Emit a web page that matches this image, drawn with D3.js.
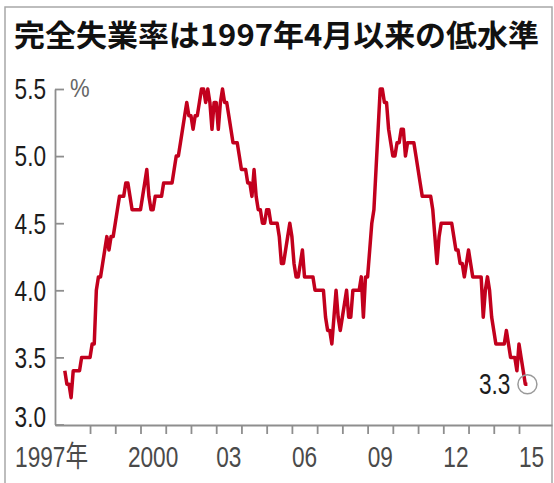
<!DOCTYPE html>
<html>
<head>
<meta charset="utf-8">
<script src="https://cdn.jsdelivr.net/npm/d3@7"></script>
<style>
  html, body { margin: 0; padding: 0; background: #fff; }
  svg { display: block; }
</style>
</head>
<body>
<svg id="chart" width="554" height="483"></svg>
<script>
// Monthly unemployment rate (%), one array per year, starting January 1997
const rate1997 = [3.4, 3.3, 3.3, 3.2, 3.4, 3.4, 3.4, 3.4, 3.5, 3.5, 3.5, 3.5];
const rate1998 = [3.5, 3.6, 3.6, 4.0, 4.1, 4.1, 4.2, 4.3, 4.4, 4.3, 4.4, 4.4];
const rate1999 = [4.5, 4.6, 4.7, 4.7, 4.7, 4.8, 4.8, 4.7, 4.6, 4.6, 4.6, 4.6];
const rate2000 = [4.6, 4.7, 4.8, 4.9, 4.7, 4.6, 4.6, 4.7, 4.7, 4.7, 4.7, 4.8];
const rate2001 = [4.8, 4.8, 4.8, 4.8, 4.9, 5.0, 5.0, 5.1, 5.2, 5.3, 5.4, 5.3];
const rate2002 = [5.3, 5.2, 5.3, 5.3, 5.4, 5.5, 5.5, 5.4, 5.5, 5.4, 5.2, 5.4];
const rate2003 = [5.4, 5.2, 5.4, 5.5, 5.4, 5.4, 5.3, 5.2, 5.1, 5.1, 5.1, 5.0];
const rate2004 = [4.9, 4.9, 4.9, 4.8, 4.8, 4.7, 4.9, 4.7, 4.6, 4.6, 4.5, 4.5];
const rate2005 = [4.6, 4.6, 4.5, 4.5, 4.5, 4.5, 4.4, 4.2, 4.2, 4.3, 4.4, 4.5];
const rate2006 = [4.4, 4.2, 4.1, 4.1, 4.2, 4.3, 4.1, 4.1, 4.1, 4.1, 4.1, 4.0];
const rate2007 = [4.0, 4.0, 4.0, 4.0, 3.8, 3.7, 3.7, 3.6, 3.8, 4.0, 3.8, 3.7];
const rate2008 = [3.8, 3.9, 4.0, 3.8, 3.8, 4.0, 4.0, 4.0, 4.0, 4.1, 3.8, 4.1];
const rate2009 = [4.1, 4.3, 4.5, 4.6, 4.9, 5.2, 5.5, 5.5, 5.4, 5.4, 5.2, 5.1];
const rate2010 = [5.0, 5.0, 5.1, 5.1, 5.2, 5.2, 5.0, 5.1, 5.1, 5.1, 5.1, 5.0];
const rate2011 = [4.9, 4.8, 4.7, 4.7, 4.7, 4.7, 4.7, 4.6, 4.4, 4.2, 4.4, 4.5];
const rate2012 = [4.5, 4.5, 4.5, 4.5, 4.5, 4.4, 4.3, 4.3, 4.2, 4.2, 4.1, 4.2];
const rate2013 = [4.3, 4.2, 4.1, 4.1, 4.1, 4.1, 4.1, 3.8, 4.0, 4.1, 4.0, 3.8];
const rate2014 = [3.7, 3.6, 3.6, 3.6, 3.6, 3.6, 3.7, 3.6, 3.5, 3.5, 3.5, 3.4];
const rate2015 = [3.6, 3.5, 3.4, 3.3, 3.3];

const startYear = 1997;
const rates = [].concat(rate1997, rate1998, rate1999, rate2000, rate2001, rate2002,
  rate2003, rate2004, rate2005, rate2006, rate2007, rate2008, rate2009, rate2010,
  rate2011, rate2012, rate2013, rate2014, rate2015);

const yTicks = [3.0, 3.5, 4.0, 4.5, 5.0, 5.5];
const xTickYears = d3.range(1998, 2016);
const xLabelYears = [1997, 2000, 2003, 2006, 2009, 2012, 2015];
const xLabels = ["1997年", "2000", "03", "06", "09", "12", "15"];
const titleText = "完全失業率は1997年4月以来の低水準";
const unitText = "%";
const lastLabel = "3.3";

const svg = d3.select("#chart");
const axisColor = "#8e8e8e";
const lineColor = "#c2001d";
const numFont = "'Liberation Sans', Arial, sans-serif";

// shrink text horizontally to a narrow face look
function condense(sel, f) {
  sel.each(function () {
    const w = this.getComputedTextLength();
    d3.select(this).attr("textLength", w * f).attr("lengthAdjust", "spacingAndGlyphs");
  });
}

// frame
svg.append("rect")
  .attr("x", 5).attr("y", 7).attr("width", 547).attr("height", 520)
  .attr("fill", "none").attr("stroke", "#a8a8a8").attr("stroke-width", 1.5);

// title
svg.append("text")
  .attr("x", 14).attr("y", 46)
  .attr("font-family", "'Noto Sans CJK JP', sans-serif")
  .attr("font-weight", 700)
  .attr("font-size", 30)
  .attr("fill", "#111")
  .attr("textLength", 525)
  .attr("lengthAdjust", "spacingAndGlyphs")
  .text(titleText);

// scales
const x = d3.scaleLinear().domain([1997, 2015]).range([64.8, 519]);
const xAxisScale = d3.scaleLinear().domain([x.invert(55), x.invert(552)]).range([55, 552]);
const y = d3.scaleLinear().domain([3.0, 5.5]).range([424.5, 89]);

// y axis: ticks pointing inward, labels on the left
const gy = svg.append("g")
  .attr("transform", "translate(55,0)")
  .call(d3.axisLeft(y).tickValues(yTicks).tickSize(-9).tickSizeOuter(0).tickPadding(9)
    .tickFormat(d3.format(".1f")));
gy.selectAll("path, line").attr("stroke", axisColor).attr("stroke-width", 1.8);
gy.selectAll("text")
  .attr("font-family", numFont).attr("font-size", 29).attr("fill", "#1c1c1c")
  .attr("dy", "0.34em")
  .call(condense, 0.78);
gy.selectAll(".tick").filter(d => d === 3.0).select("text").attr("dy", "0.06em");

// unit
svg.append("text")
  .attr("x", 70).attr("y", 97)
  .attr("font-family", numFont).attr("font-size", 26).attr("fill", "#666")
  .text(unitText)
  .call(condense, 0.85);

// x axis: year ticks
const gx = svg.append("g")
  .attr("transform", "translate(0,425)")
  .call(d3.axisBottom(xAxisScale).tickValues(xTickYears).tickSize(9).tickSizeOuter(0).tickFormat(""));
gx.selectAll("path, line").attr("stroke", axisColor).attr("stroke-width", 1.8);

// x labels centred on each year (first one tucked left of its tick)
svg.append("g").selectAll("text")
  .data(xLabelYears)
  .join("text")
  .attr("x", (d, i) => i === 0 ? x(d + 1) - 2 : x(d + 0.5))
  .attr("y", 467)
  .attr("text-anchor", (d, i) => i === 0 ? "end" : "middle")
  .attr("font-family", (d, i) => i === 0 ? "'Liberation Sans', 'Noto Sans CJK JP', sans-serif" : numFont)
  .attr("font-size", 29)
  .attr("fill", "#4a4a4a")
  .text((d, i) => xLabels[i])
  .call(condense, 0.78);

// rate line
const line = d3.line()
  .x((d, i) => x(startYear + i / 12))
  .y(d => y(d));

svg.append("path")
  .datum(rates)
  .attr("d", line)
  .attr("fill", "none")
  .attr("stroke", lineColor)
  .attr("stroke-width", 3.5)
  .attr("stroke-linejoin", "round");

// latest value marker
const lastIdx = rates.length - 1;
const lastX = x(startYear + lastIdx / 12);
const lastY = y(rates[lastIdx]);
svg.append("circle")
  .attr("cx", lastX).attr("cy", lastY).attr("r", 9.5)
  .attr("fill", "none").attr("stroke", "#9a9a9a").attr("stroke-width", 1.5);
svg.append("text")
  .attr("x", lastX - 17).attr("y", lastY + 10)
  .attr("text-anchor", "end")
  .attr("font-family", numFont).attr("font-size", 29).attr("fill", "#1c1c1c")
  .text(lastLabel)
  .call(condense, 0.78);
</script>
</body>
</html>
